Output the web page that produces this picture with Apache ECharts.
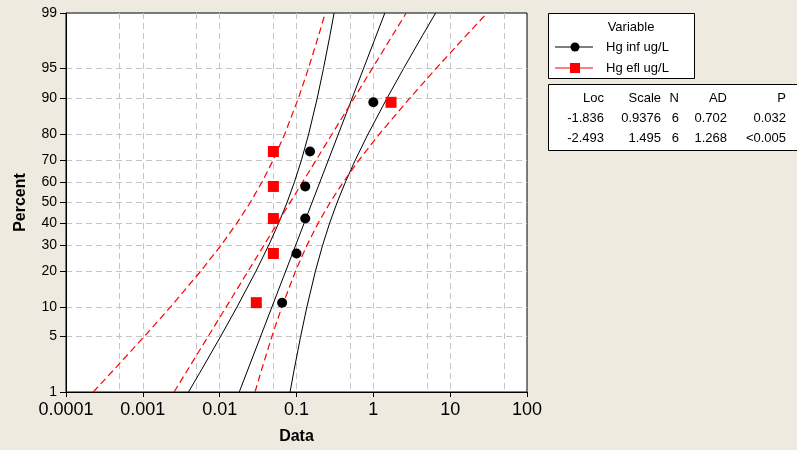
<!DOCTYPE html>
<html>
<head>
<meta charset="utf-8">
<script src="https://cdn.jsdelivr.net/npm/echarts@6/dist/echarts.min.js"></script>
<style>
html,body{margin:0;padding:0;background:#EEEAE0;}
#chart{width:797px;height:450px;}
</style>
</head>
<body>
<div id="chart"></div>
<script>
// ---- data ----
const percentTicks = [1, 5, 10, 20, 30, 40, 50, 60, 70, 80, 90, 95, 99];
const percentGrid = [5, 10, 20, 30, 40, 50, 60, 70, 80, 90, 95];
const xTickValues = [0.0001, 0.001, 0.01, 0.1, 1, 10, 100];
const xTickLabels = ["0.0001", "0.001", "0.01", "0.1", "1", "10", "100"];
const xGridValues = [0.0005, 0.001, 0.005, 0.01, 0.05, 0.1, 0.5, 1, 5, 10, 50];

const pointPercent = [10.94, 26.56, 42.19, 57.81, 73.44, 89.06];
const infValues = [0.065, 0.10, 0.13, 0.13, 0.15, 1.0];
const eflValues = [0.03, 0.05, 0.05, 0.05, 0.05, 1.7];

const fitPercent = [1, 99];
const infFit = [0.0180, 1.412];
const eflFit = [0.00255, 2.677];

const bandPercent = [1, 2, 5, 10, 20, 30, 40, 50, 60, 70, 80, 90, 95, 98, 99];
const infLower = [0.00393, 0.00580, 0.01028, 0.01684, 0.02975, 0.04350, 0.05858, 0.07530, 0.09418, 0.1163, 0.1441, 0.1863, 0.2246, 0.2728, 0.3085];
const infUpper = [0.08244, 0.0932, 0.1132, 0.1365, 0.1764, 0.2186, 0.2699, 0.3378, 0.4341, 0.5846, 0.8549, 1.510, 2.474, 4.385, 6.465];
const eflLower = [0.000226, 0.000419, 0.001044, 0.002295, 0.005684, 0.01042, 0.01674, 0.0250, 0.03571, 0.04995, 0.07038, 0.1059, 0.1428, 0.1947, 0.2367];
const eflUpper = [0.02886, 0.03511, 0.04783, 0.06451, 0.09709, 0.1368, 0.1914, 0.2734, 0.4081, 0.6559, 1.202, 2.978, 6.544, 16.30, 30.28];

const statHeader = ["Loc", "Scale", "N", "AD", "P"];
const statInf = ["-1.836", "0.9376", "6", "0.702", "0.032"];
const statEfl = ["-2.493", "1.495", "6", "1.268", "<0.005"];

// ---- probability (normal quantile) scale for the y axis ----
function normInv(p) {
  const a=[-3.969683028665376e+01,2.209460984245205e+02,-2.759285104469687e+02,1.383577518672690e+02,-3.066479806614716e+01,2.506628277459239e+00];
  const b=[-5.447609879822406e+01,1.615858368580409e+02,-1.556989798598866e+02,6.680131188771972e+01,-1.328068155288572e+01];
  const c=[-7.784894002430293e-03,-3.223964580411365e-01,-2.400758277161838e+00,-2.549732539343734e+00,4.374664141464968e+00,2.938163982698783e+00];
  const d=[7.784695709041462e-03,3.224671290700398e-01,2.445134137142996e+00,3.754408661907416e+00];
  const pl=0.02425, ph=1-pl; let q, r;
  if (p < pl) { q=Math.sqrt(-2*Math.log(p)); return (((((c[0]*q+c[1])*q+c[2])*q+c[3])*q+c[4])*q+c[5])/((((d[0]*q+d[1])*q+d[2])*q+d[3])*q+1); }
  if (p <= ph) { q=p-0.5; r=q*q; return (((((a[0]*r+a[1])*r+a[2])*r+a[3])*r+a[4])*r+a[5])*q/(((((b[0]*r+b[1])*r+b[2])*r+b[3])*r+b[4])*r+1); }
  q=Math.sqrt(-2*Math.log(1-p)); return -(((((c[0]*q+c[1])*q+c[2])*q+c[3])*q+c[4])*q+c[5])/((((d[0]*q+d[1])*q+d[2])*q+d[3])*q+1);
}
const zOf = pct => normInv(pct / 100);
const zTicks = percentTicks.map(zOf);
const zGrid = percentGrid.map(zOf);
const zMin = zOf(1), zMax = zOf(99);
const pairs = (xs, pcts) => xs.map((v, i) => [v, zOf(pcts[i])]);

const FONT = '"Liberation Sans", Arial, sans-serif';
const RED = '#FF0000';
const dashRed = { color: RED, width: 1.2, type: [7, 4] };
const solidBlack = { color: '#000', width: 1 };

const chart = echarts.init(document.getElementById('chart'), null, { renderer: 'canvas' });

const gridLineStyle = { color: '#C4C4C4', width: 1, type: [6, 4] };

const colRight = [604, 661, 679, 727, 786];
const rowY = [98, 118, 138];
const tableTexts = [];
[statHeader, statInf, statEfl].forEach((row, r) => {
  row.forEach((t, c) => {
    tableTexts.push({ type: 'text', z: 100, style: { text: t, x: colRight[c], y: rowY[r], align: 'right', verticalAlign: 'middle', font: '13px ' + FONT, fill: '#000' } });
  });
});

const option = {
  backgroundColor: '#EEEAE0',
  animation: false,
  grid: { left: 66, right: 270, top: 13, bottom: 57, show: true, backgroundColor: '#fff', borderColor: '#000', borderWidth: 1, containLabel: false },
  xAxis: [
    {
      type: 'log', logBase: 10, min: 0.0001, max: 100,
      name: 'Data', nameLocation: 'middle', nameGap: 37,
      nameTextStyle: { fontFamily: FONT, fontSize: 16, fontWeight: 'bold', color: '#000' },
      axisLine: { show: true, onZero: false, lineStyle: { color: '#000', width: 1 } },
      axisTick: { show: true, length: 5, lineStyle: { color: '#000' } },
      axisLabel: { show: true, margin: 9, fontFamily: FONT, fontSize: 18, color: '#000',
        formatter: v => { const i = xTickValues.findIndex(t => Math.abs(Math.log10(t) - Math.log10(v)) < 1e-6); return i >= 0 ? xTickLabels[i] : ''; } },
      splitLine: { show: false },
      minorTick: { show: false }
    },
    {
      // helper axis in decades (log10 units) used only for the 1-and-5 grid lines
      type: 'value', min: -4, max: 2, position: 'bottom',
      axisLine: { show: false, onZero: false },
      axisTick: { show: false, customValues: xGridValues.map(v => Math.log10(v)) },
      axisLabel: { show: false },
      splitLine: { show: true, lineStyle: gridLineStyle }
    }
  ],
  yAxis: [
    {
      type: 'value', min: zMin, max: zMax,
      name: 'Percent', nameLocation: 'middle', nameGap: 37,
      nameTextStyle: { fontFamily: FONT, fontSize: 16, fontWeight: 'bold', color: '#000' },
      axisLine: { show: true, onZero: false, lineStyle: { color: '#000', width: 1 } },
      axisTick: { show: true, length: 6, customValues: zTicks, lineStyle: { color: '#000' } },
      axisLabel: { show: true, customValues: zTicks, margin: 9, fontFamily: FONT, fontSize: 14, color: '#000',
        formatter: v => { let best = 0; zTicks.forEach((t, i) => { if (Math.abs(t - v) < Math.abs(zTicks[best] - v)) best = i; }); return String(percentTicks[best]); } },
      splitLine: { show: false }
    },
    {
      // helper axis for the interior percent grid lines
      type: 'value', min: zMin, max: zMax, position: 'left',
      axisLine: { show: false, onZero: false },
      axisTick: { show: false, customValues: zGrid },
      axisLabel: { show: false },
      splitLine: { show: true, lineStyle: gridLineStyle }
    }
  ],
  series: [
    { type: 'line', name: 'inf lower', data: pairs(infLower, bandPercent), symbol: 'none', lineStyle: solidBlack, z: 3, silent: true },
    { type: 'line', name: 'inf fit', data: pairs(infFit, fitPercent), symbol: 'none', lineStyle: solidBlack, z: 3, silent: true },
    { type: 'line', name: 'inf upper', data: pairs(infUpper, bandPercent), symbol: 'none', lineStyle: solidBlack, z: 3, silent: true },
    { type: 'line', name: 'efl lower', data: pairs(eflLower, bandPercent), symbol: 'none', lineStyle: dashRed, z: 3, silent: true },
    { type: 'line', name: 'efl fit', data: pairs(eflFit, fitPercent), symbol: 'none', lineStyle: dashRed, z: 3, silent: true },
    { type: 'line', name: 'efl upper', data: pairs(eflUpper, bandPercent), symbol: 'none', lineStyle: dashRed, z: 3, silent: true },
    { type: 'scatter', name: 'Hg inf ug/L', data: pairs(infValues, pointPercent), symbol: 'circle', symbolSize: 10, itemStyle: { color: '#000', opacity: 1 }, z: 5 },
    { type: 'scatter', name: 'Hg efl ug/L', data: pairs(eflValues, pointPercent), symbol: 'rect', symbolSize: 11, itemStyle: { color: RED, opacity: 1 }, z: 5 }
  ],
  graphic: [
    { type: 'rect', z: 100, shape: { x: 548.5, y: 13.5, width: 146, height: 65 }, style: { fill: '#fff', stroke: '#000', lineWidth: 1 } },
    { type: 'text', z: 101, style: { text: 'Variable', x: 631, y: 27, align: 'center', verticalAlign: 'middle', font: '13px ' + FONT, fill: '#000' } },
    { type: 'line', z: 101, shape: { x1: 555, y1: 47, x2: 593, y2: 47 }, style: { stroke: '#000', lineWidth: 1 } },
    { type: 'circle', z: 102, shape: { cx: 575, cy: 47, r: 4.5 }, style: { fill: '#000' } },
    { type: 'text', z: 101, style: { text: 'Hg inf ug/L', x: 606, y: 47, align: 'left', verticalAlign: 'middle', font: '13px ' + FONT, fill: '#000' } },
    { type: 'line', z: 101, shape: { x1: 555, y1: 68, x2: 593, y2: 68 }, style: { stroke: RED, lineWidth: 1 } },
    { type: 'rect', z: 102, shape: { x: 570, y: 63, width: 10, height: 10 }, style: { fill: RED } },
    { type: 'text', z: 101, style: { text: 'Hg efl ug/L', x: 606, y: 68, align: 'left', verticalAlign: 'middle', font: '13px ' + FONT, fill: '#000' } },
    { type: 'rect', z: 99, shape: { x: 548.5, y: 84.5, width: 260, height: 66 }, style: { fill: '#fff', stroke: '#000', lineWidth: 1 } }
  ].concat(tableTexts)
};
chart.setOption(option);
</script>
</body>
</html>
